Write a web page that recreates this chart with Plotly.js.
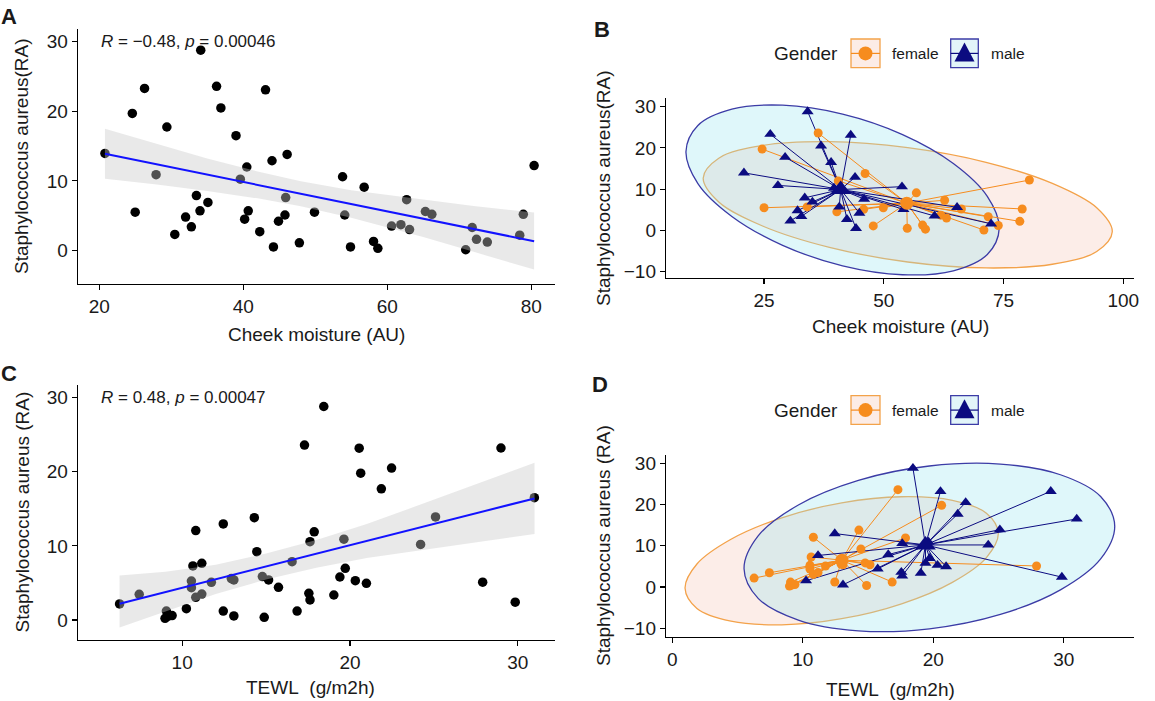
<!DOCTYPE html>
<html><head><meta charset="utf-8">
<script src="https://cdn.plot.ly/plotly-3.0.1.min.js"></script>
<style>html,body{margin:0;padding:0;background:#fff}#chart{width:1155px;height:701px}</style>
</head><body><div id="chart"></div>
<script>
// ---------- Panel A / B data (cheek moisture vs S. aureus) ----------
const moisture = [20.8,24.6,26.3,25.0,27.9,29.4,30.5,32.0,32.8,33.5,34.1,34.0,35.1,36.3,36.9,39.0,39.6,40.5,40.2,40.7,42.3,43.1,44.0,44.2,44.9,45.8,45.9,46.1,47.8,49.9,53.8,54.1,54.9,56.8,58.1,58.7,60.6,61.9,62.7,63.1,65.3,66.2,70.9,71.8,72.4,73.9,78.4,78.9,80.4];
const saA      = [13.95,19.7,23.3,5.5,10.9,17.75,2.3,4.8,3.4,7.9,28.8,5.7,6.9,23.6,20.5,16.5,10.25,12.0,4.5,5.7,2.7,23.1,12.9,0.5,4.2,5.1,7.6,13.8,1.1,5.5,10.6,5.1,0.5,9.1,1.3,0.3,3.5,3.7,7.3,3.0,5.6,5.2,0.1,3.3,1.6,1.2,2.2,5.2,12.2];
const genderA  = ['male','female','male','female','male','male','male','male','male','male','male','female','male','female','male','male','male','female','female','male','male','male','male','male','male','female','male','female','female','female','male','male','female','female','female','female','male','female','female','female','male','female','female','female','male','female','female','female','female'];

// smooth (lm) line and confidence band
const bandAX  = [20.8,28,35,42,48,55,65,72,80.4];
const fitAY   = [13.9,12.38,10.9,9.42,8.16,6.68,4.57,3.09,1.32];
const bandAHi = [17.5,15.29,13.24,11.35,9.96,8.65,7.3,6.4,5.45];
const bandALo = [10.3,9.47,8.56,7.49,6.36,4.71,1.92,-0.2,-2.75];

// ellipse outlines
const ellBFx = [97.7,94.45,85.19,71.35,55.0,38.65,24.81,15.55,12.3,15.55,24.81,38.65,55.0,71.35,85.19,94.45];
const ellBFy = [-0.3,5.5,11.39,16.51,20.05,21.49,20.59,17.5,12.7,6.9,1.01,-4.11,-7.65,-9.09,-8.19,-5.1];
const ellBMx = [74.1,71.61,64.52,53.92,41.4,28.88,18.28,11.19,8.7,11.19,18.28,28.88,41.4,53.92,64.52,71.61];
const ellBMy = [0.5,8.25,16.21,23.21,28.17,30.33,29.37,25.43,19.1,11.35,3.39,-3.61,-8.57,-10.73,-9.77,-5.83];
const centBF = [54.8, 6.6];
const centBM = [41.0, 9.9];

// ---------- Panel C / D data (TEWL vs S. aureus) ----------
const tewl    = [6.27,7.44,8.98,9.06,9.15,9.40,10.25,10.55,10.55,10.64,10.81,10.81,11.17,11.17,11.74,12.45,12.45,12.93,13.08,13.08,14.3,14.45,14.78,14.89,15.15,15.74,16.55,16.85,17.29,17.62,17.55,17.62,17.87,18.44,19.04,19.4,19.64,19.72,20.32,20.55,20.64,20.98,21.87,22.48,24.21,25.1,27.91,29.0,29.85,30.99];
const saC     = [2.16,3.46,0.22,1.2,0.5,0.6,1.53,5.26,4.36,7.29,12.06,3.06,7.65,3.5,5.08,12.96,1.21,5.58,5.4,0.54,13.8,9.22,5.85,0.36,5.4,4.4,7.87,1.2,23.6,10.57,3.6,2.7,11.9,28.8,3.37,5.8,10.9,6.97,5.3,23.17,19.8,4.95,17.7,20.5,10.2,13.9,5.1,23.2,2.4,16.5];
const genderC = ['female','female','female','female','female','female','male','female','female','female','female','female','male','female','female','male','female','female','female','male','female','female','female','female','female','male','male','female','female','male','male','male','female','male','male','male','male','male','male','male','female','male','male','male','male','male','female','male','male','male'];

const bandCX  = [6.27,9,12,15,18,21,24,27,31];
const fitCY   = [2.2,3.77,5.49,7.21,8.93,10.65,12.38,14.1,16.4];
const bandCHi = [6.0,6.5,7.45,8.96,10.8,12.95,15.4,17.9,21.2];
const bandCLo = [-1.0,1.1,3.5,5.46,7.06,8.35,9.36,10.3,11.6];

// ellipse outlines
const ellDFx = [24.98,24.07,21.46,17.57,12.98,8.39,4.5,1.89,0.98,1.89,4.5,8.39,12.98,17.57,21.46,24.07];
const ellDFy = [13.03,17.9,21.0,21.88,20.4,16.78,11.58,5.58,-0.31,-5.18,-8.28,-9.16,-7.68,-4.06,1.14,7.14];
const ellDMx = [33.9,32.82,29.74,25.14,19.7,14.26,9.66,6.58,5.5,6.58,9.66,14.26,19.7,25.14,29.74,32.82];
const ellDMy = [14.77,21.94,27.21,29.81,29.33,25.85,19.89,12.38,4.43,-2.74,-8.01,-10.61,-10.13,-6.65,-0.69,6.82];
const centDF = [13.0, 6.5];
const centDM = [19.4, 10.2];

const statA = '<i>R</i> = \u22120.48, <i>p</i> = 0.00046';
const statC = '<i>R</i> = 0.48, <i>p</i> = 0.00047';
const statAPos = [20, 30];
const statCPos = [5.06, 30];

// ---------- styling ----------
const FONT = 'Liberation Sans, Arial, Helvetica, sans-serif';
const TXT = '#1a1a1a';
const ORANGE = '#F68C1E';
const NAVY = '#0B0B80';
const ORANGE_L = '#F3A24A';
const NAVY_L = '#3C3CA6';
const W = 1155, H = 701;
const px = v => v / W;
const py = v => 1 - v / H;

function close(a){ return a.concat([a[0]]); }
function pick(arr, g, key){ return arr.filter((_, i) => g[i] === key); }
function star(xs, ys, c){
  const X = [], Y = [];
  xs.forEach((x, i) => { X.push(x, c[0], null); Y.push(ys[i], c[1], null); });
  return {X, Y};
}

const traces = [];
function regPanel(xs, ys, bx, hi, lo, fit, xa, ya){
  traces.push({x: xs, y: ys, xaxis: xa, yaxis: ya, type: 'scatter', mode: 'markers',
    marker: {color: '#000', size: 9.5, line: {width: 0}}, hoverinfo: 'skip'});
  traces.push({x: bx.concat(bx.slice().reverse()), y: hi.concat(lo.slice().reverse()),
    xaxis: xa, yaxis: ya, type: 'scatter', mode: 'lines', fill: 'toself',
    fillcolor: 'rgba(200,200,200,0.4)', line: {width: 0, color: 'rgba(0,0,0,0)'}, hoverinfo: 'skip'});
  traces.push({x: bx, y: fit, xaxis: xa, yaxis: ya, type: 'scatter', mode: 'lines',
    line: {color: '#1212FF', width: 2}, hoverinfo: 'skip'});
}
function groupPanel(xs, ys, g, efx, efy, emx, emy, cf, cm, xa, ya){
  traces.push({x: close(efx), y: close(efy), xaxis: xa, yaxis: ya, type: 'scatter', mode: 'lines',
    fill: 'toself', fillcolor: 'rgba(245,185,165,0.26)',
    line: {color: ORANGE_L, width: 1.3, shape: 'spline', smoothing: 1}, hoverinfo: 'skip'});
  traces.push({x: close(emx), y: close(emy), xaxis: xa, yaxis: ya, type: 'scatter', mode: 'lines',
    fill: 'toself', fillcolor: 'rgba(150,228,240,0.30)',
    line: {color: NAVY_L, width: 1.3, shape: 'spline', smoothing: 1}, hoverinfo: 'skip'});
  const fx = pick(xs, g, 'female'), fy = pick(ys, g, 'female');
  const mx = pick(xs, g, 'male'), my = pick(ys, g, 'male');
  const sf = star(fx, fy, cf), sm = star(mx, my, cm);
  traces.push({x: sf.X, y: sf.Y, xaxis: xa, yaxis: ya, type: 'scatter', mode: 'lines',
    line: {color: ORANGE, width: 1}, connectgaps: false, hoverinfo: 'skip'});
  traces.push({x: sm.X, y: sm.Y, xaxis: xa, yaxis: ya, type: 'scatter', mode: 'lines',
    line: {color: NAVY, width: 1}, connectgaps: false, hoverinfo: 'skip'});
  traces.push({x: fx, y: fy, xaxis: xa, yaxis: ya, type: 'scatter', mode: 'markers',
    marker: {color: ORANGE, size: 9, symbol: 'circle', line: {width: 0}}, hoverinfo: 'skip'});
  traces.push({x: mx, y: my, xaxis: xa, yaxis: ya, type: 'scatter', mode: 'markers',
    marker: {color: NAVY, size: 10.5, symbol: 'triangle-up', line: {width: 0}}, hoverinfo: 'skip'});
  traces.push({x: [cf[0]], y: [cf[1]], xaxis: xa, yaxis: ya, type: 'scatter', mode: 'markers',
    marker: {color: ORANGE, size: 13, symbol: 'circle', line: {width: 0}}, hoverinfo: 'skip'});
  traces.push({x: [cm[0]], y: [cm[1]], xaxis: xa, yaxis: ya, type: 'scatter', mode: 'markers',
    marker: {color: NAVY, size: 18, symbol: 'triangle-up', line: {width: 0}}, hoverinfo: 'skip'});
}

regPanel(moisture, saA, bandAX, bandAHi, bandALo, fitAY, 'x', 'y');
groupPanel(moisture, saA, genderA, ellBFx, ellBFy, ellBMx, ellBMy, centBF, centBM, 'x2', 'y2');
regPanel(tewl, saC, bandCX, bandCHi, bandCLo, fitCY, 'x3', 'y3');
groupPanel(tewl, saC, genderC, ellDFx, ellDFy, ellDMx, ellDMy, centDF, centDM, 'x4', 'y4');

function ax(domain, range, tickvals, anchor){
  return {domain, range, tickvals, anchor, showgrid: false, zeroline: false,
    showline: true, linecolor: '#000', linewidth: 1.2, ticks: 'outside', ticklen: 5,
    tickwidth: 1.1, tickcolor: '#000', tickfont: {family: FONT, size: 19, color: TXT},
    fixedrange: true};
}

const annotations = [];
function txt(text, x, y, size, opts){
  annotations.push(Object.assign({text, x: px(x), y: py(y), xref: 'paper', yref: 'paper',
    showarrow: false, font: {family: FONT, size, color: TXT}, xanchor: 'center', yanchor: 'middle'}, opts || {}));
}
// panel letters
txt('<b>A</b>', 9, 16.5, 22);
txt('<b>B</b>', 602, 30, 22);
txt('<b>C</b>', 9, 373, 22);
txt('<b>D</b>', 600, 384, 22);
// axis titles
txt('Staphylococcus aureus(RA)', 21.5, 156.5, 19, {textangle: -90});
txt('Staphylococcus aureus(RA)', 603, 188, 19, {textangle: -90});
txt('Staphylococcus aureus (RA)', 22, 512.5, 19, {textangle: -90});
txt('Staphylococcus aureus (RA)', 603, 546, 19, {textangle: -90});
txt('Cheek moisture (AU)', 316, 335, 19);
txt('Cheek moisture (AU)', 900, 326.5, 19);
txt('TEWL&nbsp;&nbsp;(g/m2h)', 310, 687, 19);
txt('TEWL&nbsp;&nbsp;(g/m2h)', 890, 689, 19);
// correlation labels in data coordinates
annotations.push({text: statA, x: statAPos[0], y: statAPos[1], xref: 'x', yref: 'y', showarrow: false,
  xanchor: 'left', yanchor: 'middle', font: {family: FONT, size: 17, color: TXT}});
annotations.push({text: statC, x: statCPos[0], y: statCPos[1], xref: 'x3', yref: 'y3', showarrow: false,
  xanchor: 'left', yanchor: 'middle', font: {family: FONT, size: 17, color: TXT}});

const shapes = [];
function legend(dy){
  txt('Gender', 806, 54 + dy, 19);
  txt('female', 890, 54 + dy, 15.5, {xanchor: 'left'});
  txt('male', 989.3, 54 + dy, 15.5, {xanchor: 'left'});
  const yc = 53.4 + dy;
  shapes.push({type: 'rect', xref: 'paper', yref: 'paper', x0: px(851), x1: px(880), y0: py(39 + dy), y1: py(67.7 + dy),
    fillcolor: '#FCECE6', line: {color: ORANGE_L, width: 1.3}});
  shapes.push({type: 'line', xref: 'paper', yref: 'paper', x0: px(851), x1: px(880), y0: py(yc), y1: py(yc),
    line: {color: ORANGE, width: 1.2}});
  shapes.push({type: 'circle', xref: 'paper', yref: 'paper', x0: px(858.5), x1: px(872.5), y0: py(yc - 7), y1: py(yc + 7),
    fillcolor: ORANGE, line: {width: 0}});
  shapes.push({type: 'rect', xref: 'paper', yref: 'paper', x0: px(950.7), x1: px(978.3), y0: py(39 + dy), y1: py(67.7 + dy),
    fillcolor: '#E2F5F9', line: {color: NAVY_L, width: 1.3}});
  shapes.push({type: 'line', xref: 'paper', yref: 'paper', x0: px(950.7), x1: px(978.3), y0: py(yc), y1: py(yc),
    line: {color: NAVY, width: 1.2}});
  shapes.push({type: 'path', xref: 'paper', yref: 'paper',
    path: `M ${px(964.5)} ${py(42.5 + dy)} L ${px(954.5)} ${py(61.5 + dy)} L ${px(974.5)} ${py(61.5 + dy)} Z`,
    fillcolor: NAVY, line: {width: 0}});
}
legend(0);
legend(356.7);

const layout = {
  width: W, height: H, margin: {l: 0, r: 0, t: 0, b: 0, pad: 0},
  paper_bgcolor: '#fff', plot_bgcolor: 'rgba(0,0,0,0)', showlegend: false, hovermode: false,
  font: {family: FONT, color: TXT},
  xaxis:  ax([px(77.8), px(555)], [17.03, 83.3], [20, 40, 60, 80], 'y'),
  yaxis:  ax([py(283.7), py(29.3)], [-4.78, 31.8], [0, 10, 20, 30], 'x'),
  xaxis2: ax([px(666), px(1134.3)], [4.53, 102.3], [25, 50, 75, 100], 'y2'),
  yaxis2: ax([py(277.7), py(98.3)], [-11.45, 32.0], [-10, 0, 10, 20, 30], 'x2'),
  xaxis3: ax([px(77.8), px(555)], [3.78, 32.22], [10, 20, 30], 'y3'),
  yaxis3: ax([py(640), py(385)], [-2.7, 31.7], [0, 10, 20, 30], 'x3'),
  xaxis4: ax([px(666), px(1134.3)], [-0.48, 35.4], [0, 10, 20, 30], 'y4'),
  yaxis4: ax([py(636.7), py(455)], [-12.04, 32.0], [-10, 0, 10, 20, 30], 'x4'),
  annotations, shapes
};

Plotly.newPlot('chart', traces, layout, {staticPlot: true, displayModeBar: false});
</script></body></html>
